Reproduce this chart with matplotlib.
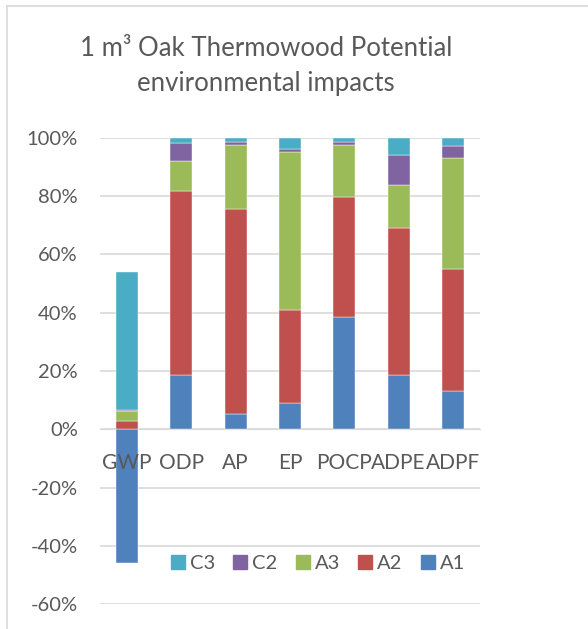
import matplotlib
matplotlib.use("Agg")
import matplotlib.pyplot as plt
from matplotlib.ticker import FuncFormatter
from matplotlib.lines import Line2D
import numpy as np

# impact categories and the share of each life cycle stage (%)
categories = ["GWP", "ODP", "AP", "EP", "POCP", "ADPE", "ADPF"]
A1 = [-46.0, 18.7, 5.1, 8.9, 38.6, 18.5, 13.0]
A2 = [3.0, 63.1, 70.6, 32.1, 41.1, 50.6, 42.1]
A3 = [3.4, 10.2, 21.9, 54.2, 17.9, 14.7, 37.9]
C2 = [0.3, 6.3, 1.0, 0.9, 1.0, 10.4, 4.3]
C3 = [47.2, 1.7, 1.4, 3.9, 1.4, 5.8, 2.7]

series = [("A1", A1, "#4F81BD"), ("A2", A2, "#C0504D"), ("A3", A3, "#9BBB59"),
          ("C2", C2, "#8064A2"), ("C3", C3, "#4BACC6")]

plt.rcParams['font.family'] = ['Lato', 'DejaVu Sans']
txt = "#595959"

fig = plt.figure(figsize=(5.88, 6.29), dpi=100)
ax = fig.add_axes([100/588, 1 - 604.3/629, 380/588, (604.3 - 137.7)/629])

x = np.arange(len(categories))
pos_base = np.zeros(len(categories))
handles = []
for name, vals, col in series:
    vals = np.array(vals)
    # negative values go downward from zero, positives stack up
    bottom = np.where(vals >= 0, pos_base, 0)
    ax.bar(x, vals, 0.405, bottom=bottom, color=col, edgecolor="#ffffff",
           linewidth=0.3, zorder=1)
    pos_base = pos_base + np.where(vals >= 0, vals, 0)
    handles.append(Line2D([], [], marker="s", linestyle="none", markersize=9.5,
                          markerfacecolor=col, markeredgecolor=col, label=name))

ax.set_xlim(-0.5, len(categories) - 0.5)
ax.set_ylim(-60, 100)
ax.set_yticks(np.arange(-60, 101, 20))
ax.yaxis.set_major_formatter(FuncFormatter(lambda v, p: "%d%%" % v))
ax.grid(axis="y", color="#D9D9D9", linewidth=1.2)
ax.set_axisbelow(True)
# category labels sit on top of the bars
ax.xaxis.set_zorder(5)

ax.set_xticks(x)
ax.set_xticklabels(categories)
ax.spines['bottom'].set_position(('data', 0))
ax.spines['bottom'].set_color("#D9D9D9")
ax.spines['bottom'].set_zorder(0.5)
for s in ["left", "right", "top"]:
    ax.spines[s].set_visible(False)
ax.tick_params(axis="x", length=0, pad=17, labelsize=15, colors=txt)
ax.tick_params(axis="y", length=0, pad=16, labelsize=14.5, colors=txt)

leg = ax.legend(handles=handles[::-1], ncol=5, loc="center",
                bbox_to_anchor=(0.572, 0.088), frameon=False, fontsize=14.5,
                handletextpad=0.2, columnspacing=0.85, handlelength=0.8,
                labelcolor=txt)

fig.text(266/588, 1 - 66/629, "1 m³ Oak Thermowood Potential\nenvironmental impacts",
         ha="center", va="center", fontsize=18.5, color=txt, linespacing=1.55)

# chart area outline
fig.add_artist(Line2D([7/588, 7/588], [0, 1 - 6/629], transform=fig.transFigure,
                      color="#D9D9D9", linewidth=1.2))
fig.add_artist(Line2D([7/588, 1], [1 - 6/629, 1 - 6/629], transform=fig.transFigure,
                      color="#D9D9D9", linewidth=1.2))

fig.savefig("out.png", dpi=100)
